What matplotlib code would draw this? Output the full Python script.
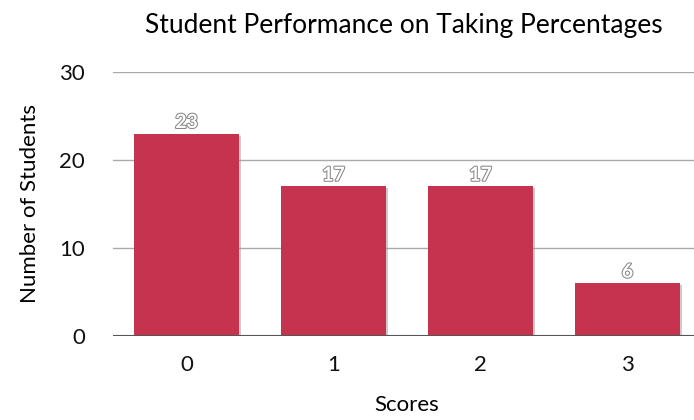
import matplotlib
matplotlib.use("Agg")
import matplotlib.pyplot as plt
import matplotlib.patheffects as pe
import numpy as np

categories = ["0", "1", "2", "3"]
values = [23, 17, 17, 6]
yticks = [0, 10, 20, 30]

plt.rcParams['font.family'] = ['Lato', 'DejaVu Sans']

fig = plt.figure(figsize=(6.94, 4.2), dpi=100)
ax = fig.add_axes([113/694, 0.2, 588/694, 0.6286])

x = np.arange(len(categories))
bars = ax.bar(x, values, width=0.71, color="#C6334F", zorder=3,
              edgecolor="none")
for b in bars:
    b.set_path_effects([pe.SimplePatchShadow(offset=(1.5, -1.5), shadow_rgbFace="#999999", alpha=0.5), pe.Normal()])

for xi, v in zip(x, values):
    ax.text(xi, v + 0.3, str(v), ha="center", va="bottom", fontsize=14,
            color="white", zorder=5, fontweight="bold",
            path_effects=[pe.withStroke(linewidth=1.5, foreground="#888888")])

ax.set_xlim(-0.5, 3.5)
ax.set_ylim(0, 30)
ax.set_yticks(yticks)
ax.set_xticks(x)
ax.set_xticklabels(categories)
for y in yticks[1:]:
    ax.axhline(y, color="#aaaaaa", linewidth=1, zorder=1)
ax.axhline(0, color="#555555", linewidth=1.5, zorder=4)
for s in ax.spines.values():
    s.set_visible(False)
ax.tick_params(length=0, labelsize=16, colors="#111111")
ax.tick_params(axis="y", pad=20)
ax.tick_params(axis="x", pad=14)
ax.set_xlabel("Scores", fontsize=16, labelpad=14)
ax.set_ylabel("Number of Students", fontsize=16, labelpad=14)
fig.text(404/694, 1 - 25/420, "Student Performance on Taking Percentages",
         ha="center", va="center", fontsize=19)

fig.savefig("out.png", dpi=100)
